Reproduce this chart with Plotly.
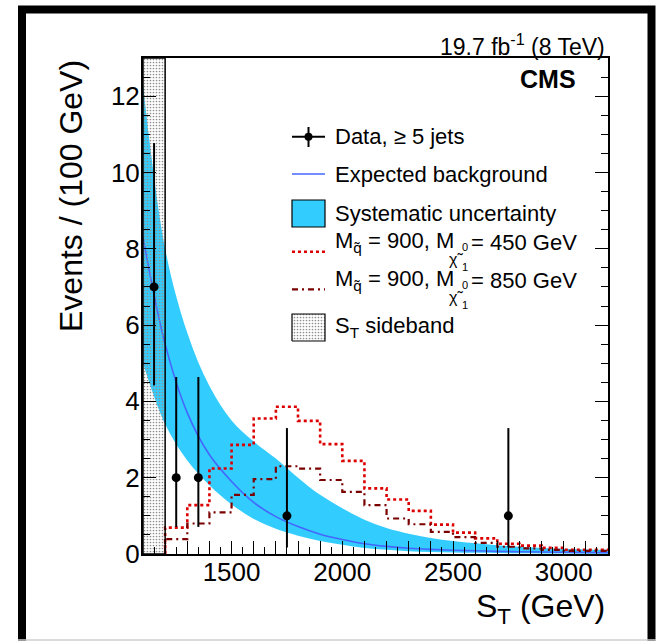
import plotly.graph_objects as go

# ---- background estimate on an S_T grid (GeV), events per 100 GeV ----
st_grid = [1100, 1200, 1300, 1400, 1500, 1600, 1700, 1800, 1900, 2000, 2100,
           2200, 2300, 2400, 2500, 2600, 2700, 2800, 2900, 3000, 3100, 3200]
bkg_central = [8.3, 5.5, 3.7, 2.6, 1.9, 1.35, 0.98, 0.72, 0.52, 0.38, 0.27,
               0.2, 0.15, 0.12, 0.1, 0.085, 0.07, 0.06, 0.052, 0.046, 0.04, 0.035]
bkg_upper = [12.3, 8.0, 5.8, 4.4, 3.5, 2.95, 2.5, 2.0, 1.55, 1.2, 0.9,
             0.68, 0.53, 0.42, 0.34, 0.28, 0.23, 0.19, 0.16, 0.14, 0.12, 0.11]
bkg_lower = [5.0, 3.4, 2.45, 1.8, 1.3, 0.92, 0.66, 0.48, 0.34, 0.24, 0.16,
             0.11, 0.075, 0.055, 0.04, 0.03, 0.024, 0.018, 0.014, 0.011, 0.009, 0.007]

# ---- observed data, >= 5 jets ----
data_st = [1150, 1250, 1350, 1750, 2750]
data_counts = [7, 2, 2, 1, 1]
data_err_up = [3.77, 2.64, 2.64, 2.30, 2.30]
data_err_down = [2.58, 1.29, 1.29, 0.83, 0.83]

# ---- signal templates, 100 GeV bins starting at 1200 GeV ----
bin_edges = [1200, 1300, 1400, 1500, 1600, 1700, 1800, 1900, 2000, 2100, 2200,
             2300, 2400, 2500, 2600, 2700, 2800, 2900, 3000, 3100, 3200]
sig_lsp450 = [0.69, 1.28, 2.24, 2.86, 3.55, 3.86, 3.49, 2.88, 2.44, 1.72,
              1.43, 1.13, 0.77, 0.56, 0.41, 0.27, 0.22, 0.16, 0.11, 0.11]
sig_lsp850 = [0.39, 0.8, 1.09, 1.55, 1.96, 2.3, 2.24, 1.94, 1.63, 1.28,
              0.93, 0.78, 0.58, 0.44, 0.29, 0.19, 0.15, 0.11, 0.08, 0.08]

# ---- normalisation sideband ----
sideband = [1100, 1200]

# ---- axes ----
x_range = [1100, 3200]
y_range = [0, 13]
x_tick_vals = list(range(1100, 3300, 100))
x_tick_labels = {1500: "1500", 2000: "2000", 2500: "2500", 3000: "3000"}
y_tick_vals = [0, 2, 4, 6, 8, 10, 12]

FONT = "Liberation Sans, Arial, Helvetica, sans-serif"
BAND = "#33CCFF"
LINE = "#4466FF"
RED = "#DD0000"
DARKRED = "#7A0000"
DOTS = dict(shape=".", size=3, solidity=0.25, fgcolor="#8f8f8f",
            bgcolor="rgba(0,0,0,0)", fillmode="replace")

W_FIG, H_FIG = 659, 641
L, R, T, B = 143, 608, 58, 554


def px(x):
    return (x - L) / (R - L)


def py(y):
    return (B - y) / (B - T)


def steps(edges, vals):
    return [edges[0]] + edges, [0] + vals + [vals[-1]]


fig = go.Figure()

# uncertainty band
fig.add_trace(go.Scatter(x=st_grid, y=bkg_lower, mode="lines", line=dict(width=0, shape="spline"),
                         showlegend=False, hoverinfo="skip"))
fig.add_trace(go.Scatter(x=st_grid, y=bkg_upper, mode="lines", line=dict(width=0, shape="spline"),
                         fill="tonexty", fillcolor=BAND, showlegend=False, hoverinfo="skip"))
# central background fit
fig.add_trace(go.Scatter(x=st_grid, y=bkg_central, mode="lines",
                         line=dict(color=LINE, width=1.6, shape="spline"), showlegend=False))

# signal histograms
sx, sy = steps(bin_edges, sig_lsp450)
fig.add_trace(go.Scatter(x=sx, y=sy, mode="lines",
                         line=dict(color=RED, width=2.6, shape="hv", dash="3px,3px"), showlegend=False))
sx, sy = steps(bin_edges, sig_lsp850)
fig.add_trace(go.Scatter(x=sx, y=sy, mode="lines",
                         line=dict(color=DARKRED, width=2.2, shape="hv", dash="6px,4px,2px,4px"),
                         showlegend=False))

# sideband
fig.add_trace(go.Scatter(
    x=[sideband[0], sideband[1], sideband[1], sideband[0], sideband[0]],
    y=[y_range[0], y_range[0], y_range[1], y_range[1], y_range[0]],
    mode="lines", fill="toself", line=dict(color="black", width=1.5),
    fillcolor="rgba(0,0,0,0)", fillpattern=DOTS,
    showlegend=False, hoverinfo="skip"))

# data
fig.add_trace(go.Scatter(
    x=data_st, y=data_counts, mode="markers",
    marker=dict(color="black", size=9),
    error_y=dict(type="data", symmetric=False, array=data_err_up, arrayminus=data_err_down,
                 color="black", thickness=2, width=0),
    showlegend=False))

# legend swatch for the sideband, on an overlay in paper units
fig.add_trace(go.Scatter(
    x=[px(292), px(325), px(325), px(292), px(292)],
    y=[py(341), py(341), py(314), py(314), py(341)],
    xaxis="x2", yaxis="y2", mode="lines", fill="toself",
    line=dict(color="black", width=1.2), fillcolor="rgba(0,0,0,0)", fillpattern=DOTS,
    showlegend=False, hoverinfo="skip"))

shapes = []
# outer canvas frame
shapes.append(dict(type="rect", xref="paper", yref="paper", x0=px(22), x1=px(651.5),
                   y0=py(700), y1=py(9.5), line=dict(color="black", width=8)))
shapes.append(dict(type="line", xref="paper", yref="paper", x0=px(18), x1=px(656),
                   y0=py(640), y1=py(640), line=dict(color="#cfcfcf", width=1.5)))

# legend keys
shapes += [
    dict(type="line", xref="paper", yref="paper", x0=px(292), x1=px(325), y0=py(136.7), y1=py(136.7),
         line=dict(color="black", width=2)),
    dict(type="line", xref="paper", yref="paper", x0=px(308.5), x1=px(308.5), y0=py(127), y1=py(147),
         line=dict(color="black", width=2)),
    dict(type="circle", xref="paper", yref="paper", x0=px(304.5), x1=px(312.5), y0=py(132.7), y1=py(140.7),
         fillcolor="black", line=dict(color="black", width=0)),
    dict(type="line", xref="paper", yref="paper", x0=px(292), x1=px(325), y0=py(174), y1=py(174),
         line=dict(color=LINE, width=1.6)),
    dict(type="rect", xref="paper", yref="paper", x0=px(292), x1=px(325), y0=py(227), y1=py(200),
         fillcolor=BAND, line=dict(color="black", width=1.2)),
    dict(type="line", xref="paper", yref="paper", x0=px(292), x1=px(325), y0=py(251.7), y1=py(251.7),
         line=dict(color=RED, width=2.4, dash="3px,3px")),
    dict(type="line", xref="paper", yref="paper", x0=px(292), x1=px(325), y0=py(289.3), y1=py(289.3),
         line=dict(color=DARKRED, width=2.2, dash="6px,4px,2px,4px")),
]

annotations = []


def text(s, x, y, size, xanchor="left", yanchor="middle", angle=0):
    annotations.append(dict(text=s, x=px(x), y=py(y), xref="paper", yref="paper",
                            xanchor=xanchor, yanchor=yanchor, showarrow=False, textangle=angle,
                            font=dict(family=FONT, size=size, color="black")))


def mass_label(lsp_mass, y):
    # M_squark = 900, M_neutralino = <lsp_mass> GeV, neutralino symbol with stacked indices
    text("M<sub>q\u0303</sub> = 900, M", 333, y, 22)
    text("\u03c7\u0303", 447, y + 17, 16)
    text("0", 459.5, y + 5, 11)
    text("1", 459.5, y + 25, 11)
    text("= %d GeV" % lsp_mass, 469, y, 22)


text("19.7 fb<sup>-1</sup> (8 TeV)", 607, 45, 23, xanchor="right")
text("<b>CMS</b>", 578, 79, 25, xanchor="right")
text("Events / (100 GeV)", 71, 58, 32, xanchor="center", yanchor="top", angle=-90)
text("S<sub>T</sub> (GeV)", 607, 608, 32, xanchor="right")

text("Data, \u2265 5 jets", 333, 136.7, 22)
text("Expected background", 333, 174, 22)
text("Systematic uncertainty", 333, 213.3, 22)
mass_label(450, 242)
mass_label(850, 280)
text("S<sub>T</sub> sideband", 333, 327, 22)

axis_common = dict(showgrid=False, zeroline=False, showline=True, linecolor="black", linewidth=2,
                   ticks="inside", tickcolor="black", tickwidth=1.3, ticklen=13,
                   tickfont=dict(family=FONT, size=26, color="black"))

fig.update_layout(
    width=W_FIG, height=H_FIG,
    margin=dict(l=L, r=W_FIG - R, t=T, b=H_FIG - B),
    paper_bgcolor="white", plot_bgcolor="white",
    showlegend=False,
    xaxis=dict(range=x_range, tickmode="array", tickvals=x_tick_vals,
               ticktext=[x_tick_labels.get(v, "") for v in x_tick_vals],
               mirror=True, ticklabelstandoff=-6,
               minor=dict(tickmode="linear", tick0=x_range[0], dtick=50, ticks="inside",
                          ticklen=7, tickwidth=1.3, tickcolor="black"),
               **axis_common),
    yaxis=dict(range=y_range, tickmode="array", tickvals=y_tick_vals, mirror="ticks",
               ticklabelstandoff=-4,
               minor=dict(tickmode="linear", tick0=0, dtick=0.5, ticks="inside",
                          ticklen=7, tickwidth=1.3, tickcolor="black"),
               **axis_common),
    xaxis2=dict(overlaying="x", range=[0, 1], visible=False, fixedrange=True),
    yaxis2=dict(overlaying="y", range=[0, 1], visible=False, fixedrange=True),
    shapes=shapes,
    annotations=annotations,
)

fig.write_html("out.html")
